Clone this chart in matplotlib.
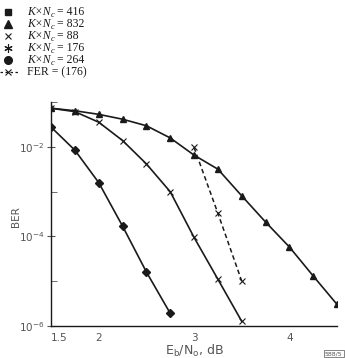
import matplotlib
matplotlib.use('Agg')
import matplotlib.pyplot as plt
from matplotlib.lines import Line2D

# Eb/No (dB) and BER
ebno_832 = [1.5, 1.75, 2.0, 2.25, 2.5, 2.75, 3.0, 3.25, 3.5, 3.75, 4.0, 4.25, 4.5]
ber_832 = [7.4e-2, 6.5e-2, 5.4e-2, 4.2e-2, 3.0e-2, 1.6e-2, 6.6e-3, 3.2e-3,
           8.1e-4, 2.1e-4, 5.8e-5, 1.3e-5, 3.0e-6]

ebno_264 = [1.5, 1.75, 2.0, 2.25, 2.5, 2.75]
ber_264 = [2.8e-2, 8.5e-3, 1.6e-3, 1.7e-4, 1.6e-5, 1.9e-6]

ebno_88 = [1.5, 1.75, 2.0, 2.25, 2.5, 2.75, 3.0, 3.25, 3.5]
ber_88 = [7.4e-2, 6.2e-2, 3.6e-2, 1.4e-2, 4.2e-3, 1.0e-3, 9.5e-5, 1.1e-5, 1.26e-6]

ebno_fer = [3.0, 3.25, 3.5]
fer_176 = [9.8e-3, 3.3e-4, 1.0e-5]

x_ticks = [1.5, 2, 3, 4]
x_tick_labels = ['1.5', '2', '3', '4']
y_major = [1e-2, 1e-4, 1e-6]
y_minor = [1e-1, 1e-3, 1e-5]

legend_values = ['416', '832', '88', '176', '264']

ink = '#1a1a1a'
gray = '#555555'
W, H = 345, 358

fig = plt.figure(figsize=(W / 100, H / 100), dpi=100)
ax = fig.add_axes([0.148, 0.090, 0.829, 0.624])

ax.plot(ebno_832, ber_832, color=ink, lw=1.2, marker='^', ms=4.5)
ax.plot(ebno_264, ber_264, color=ink, lw=1.2, marker='D', ms=4)
ax.plot(ebno_88, ber_88, color=ink, lw=1.2, marker='x', ms=4, mew=0.8)
ax.plot(ebno_fer, fer_176, color=ink, lw=1.1, ls=(0, (3, 2)), marker='x', ms=4, mew=0.8)

ax.set_yscale('log')
ax.set_xlim(1.5, 4.5)
ax.set_ylim(1e-6, 1e-1)
ax.set_xticks(x_ticks)
ax.set_xticklabels(x_tick_labels)
ax.get_xticklabels()[0].set_ha('left')
ax.set_yticks(y_major)
ax.set_yticklabels([r'$\mathregular{10^{-2}}$', r'$\mathregular{10^{-4}}$',
                    r'$\mathregular{10^{-6}}$'])
ax.set_yticks(y_minor, minor=True)
ax.set_yticklabels([], minor=True)
ax.tick_params(axis='y', which='major', direction='inout', length=6, colors=gray,
               labelsize=7.5, pad=2)
ax.tick_params(axis='y', which='minor', direction='in', length=4, color=gray)
ax.tick_params(axis='x', direction='in', length=0, colors=gray, labelsize=7.5, pad=5)

for side in ['top', 'right']:
    ax.spines[side].set_visible(False)
for side in ['left', 'bottom']:
    ax.spines[side].set_color(ink)
    ax.spines[side].set_linewidth(1.0)

ax.set_ylabel('BER', color=gray, fontsize=7.5)
ax.yaxis.set_label_coords(-0.105, 0.49)
ax.set_xlabel(r'E$_\mathregular{b}$/N$_\mathregular{o}$, dB', color=gray, fontsize=9,
              labelpad=0)

# legend drawn by hand, rows 12 px apart at the top-left of the figure
markers = [dict(marker='s', ms=5), dict(marker='^', ms=5.5),
           dict(marker='x', ms=5, mew=0.8), dict(marker=(6, 2, 0), ms=6, mew=0.8),
           dict(marker='o', ms=5.5), dict(marker='x', ms=5, mew=0.8)]
renderer = fig.canvas.get_renderer()
serif = dict(family='Liberation Serif', fontsize=8.5, color=ink)


def text_after(prev, s, dy=0, **kw):
    x1 = prev.get_window_extent(renderer).x1
    yb = prev.get_position()[1]
    return fig.text(x1 / W, yb - dy / H, s, va='baseline', ha='left', **kw)


for i, mk in enumerate(markers):
    yy = 1 - (12 + 12 * i) / H
    fig.add_artist(Line2D([8 / W], [yy], color=ink, ls='', **mk))
    base = yy - 3 / H
    if i == len(markers) - 1:
        fig.add_artist(Line2D([0, 20 / W], [yy, yy], color=ink, lw=0.9, ls=(0, (2, 2))))
        fig.text(27 / W, base, 'FER = (176)', va='baseline', **serif)
        continue
    t = fig.text(27 / W, base, 'K×N', va='baseline', style='italic', **serif)
    t = text_after(t, 'c', dy=2, family='Liberation Serif', fontsize=6, color=ink,
                   style='italic')
    text_after(t, ' = ' + legend_values[i], dy=-2, **serif)

fig.text(0.993, 0.005, '588/5', fontsize=4.5, ha='right', va='bottom', color=gray,
         bbox=dict(boxstyle='square,pad=0.2', fc='white', ec=gray, lw=0.5))

fig.savefig('out.png', dpi=100)
